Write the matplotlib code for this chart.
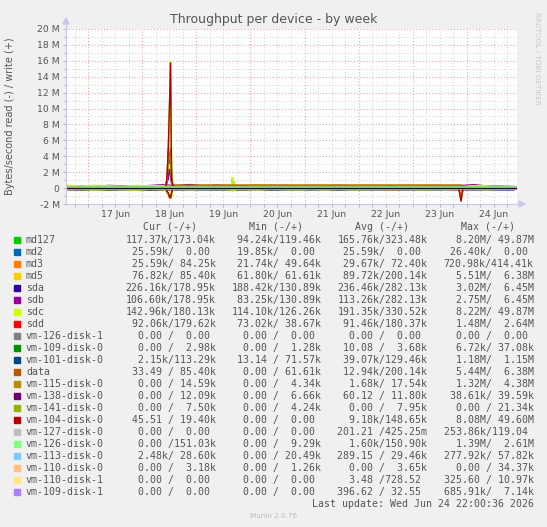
import numpy as np
import pandas as pd
import matplotlib
matplotlib.use("Agg")
import matplotlib.pyplot as plt
import matplotlib.dates as mdates
from matplotlib.ticker import FuncFormatter, MultipleLocator, NullFormatter
from matplotlib.patches import Rectangle, Polygon
from matplotlib.lines import Line2D

W, H = 547, 527

# --- samples (kB/s); read values are drawn below zero ---
t6 = pd.date_range("2026-06-16 15:00", periods=34, freq="6h")
td = pd.to_datetime(["2026-06-16 14:00", "2026-06-17 12:00", "2026-06-18 12:00",
                     "2026-06-19 12:00", "2026-06-20 12:00", "2026-06-21 12:00",
                     "2026-06-22 12:00", "2026-06-23 12:00", "2026-06-24 12:00",
                     "2026-06-24 22:00"])
ev1 = pd.date_range("2026-06-18 10:00", periods=9, freq="30min")  # burst on the 18th
ev2 = pd.date_range("2026-06-19 15:30", periods=4, freq="30min")
ev3 = pd.date_range("2026-06-23 20:30", periods=5, freq="30min")

md127_wr6 = [190, 230, 170, 250, 200, 180, 270, 210, 240, 220, 200, 260, 210, 230, 190, 270, 220,
             200, 240, 180, 260, 210, 220, 190, 250, 200, 230, 210, 180, 240, 220, 200, 190, 175]
md127_rd6 = [140, 160, 130, 170, 150, 140, 180, 150, 160, 150, 140, 170, 150, 160, 130, 170, 150,
             140, 160, 130, 170, 150, 150, 140, 160, 140, 150, 150, 130, 160, 150, 140, 130, 120]
sdc_wr6 = [330, 280, 350, 300, 260, 340, 290, 320, 310, 280, 330, 300, 290, 270, 340, 300, 280,
           320, 290, 350, 280, 310, 300, 330, 270, 320, 300, 290, 340, 280, 310, 300, 190, 180]
sdc_rd6 = [200, 180, 230, 190, 210, 240, 180, 200, 190, 220, 180, 200, 210, 190, 230, 180, 200,
           220, 190, 210, 180, 230, 200, 190, 210, 180, 220, 200, 190, 210, 180, 200, 150, 143]
sda_wr6 = [260, 300, 240, 320, 280, 250, 310, 270, 300, 280, 260, 330, 270, 290, 250, 320, 280,
           260, 300, 240, 310, 270, 280, 250, 300, 260, 290, 270, 240, 300, 280, 260, 200, 180]
sda_rd6 = [230, 250, 220, 260, 240, 230, 270, 240, 250, 240, 230, 260, 240, 250, 220, 260, 240,
           230, 250, 220, 260, 240, 240, 230, 250, 230, 240, 240, 220, 250, 240, 230, 230, 226]
sdb_wr6 = [280, 300, 240, 320, 290, 250, 310, 440, 300, 450, 260, 330, 290, 290, 250, 300, 280,
           260, 300, 240, 310, 290, 280, 250, 300, 260, 290, 300, 240, 300, 440, 260, 200, 180]
md5_wr6 = [110, 130, 100, 120, 140, 110, 130, 120, 380, 370, 380, 375, 380, 370, 385, 375, 380,
           370, 380, 375, 385, 370, 380, 375, 370, 380, 375, 380, 370, 380, 120, 110, 90, 85]

zero_d = [0, 0, 0, 0, 0, 0, 0, 0, 0, 0]
md2_rd = [26, 25, 24, 26, 25, 25, 26, 25, 26, 26]
md3_wr = [70, 65, 80, 60, 75, 70, 72, 68, 84, 84]
md3_rd = [30, 28, 35, 27, 29, 30, 28, 29, 26, 26]
md5_rd = [90, 85, 95, 88, 90, 92, 86, 90, 77, 77]
sdb_rd = [110, 115, 105, 120, 110, 112, 115, 110, 107, 107]
sdd_wr = [170, 190, 160, 185, 175, 180, 170, 190, 180, 180]
sdd_rd = [90, 95, 85, 92, 90, 88, 94, 90, 92, 92]
vm109d0_wr = [3, 4, 3, 5, 4, 3, 4, 3, 3, 3]
vm101_wr = [120, 130, 110, 140, 125, 130, 120, 135, 113, 113]
vm101_rd = [40, 38, 42, 39, 40, 37, 41, 39, 2, 2]
data_rd = [10, 12, 15, 10, 12, 14, 11, 13, 0, 0]
vm115_wr = [15, 18, 16, 20, 17, 18, 16, 19, 15, 15]
vm115_rd = [0, 2, 1, 0, 3, 1, 2, 1, 0, 0]
vm138_wr = [12, 11, 13, 12, 11, 12, 12, 11, 12, 12]
vm141_wr = [8, 7, 9, 8, 7, 8, 8, 7, 8, 7]
vm104_wr = [140, 160, 130, 150, 145, 150, 140, 155, 19, 19]
vm104_rd = [5, 10, 8, 9, 10, 7, 9, 12, 0, 0]
vm127_rd = [0, 0.2, 0.3, 0.1, 0.2, 0.1, 0.3, 0.2, 0, 0]
vm126d0_wr = [150, 152, 148, 151, 150, 149, 152, 150, 151, 151]
vm126d0_rd = [2, 1, 3, 1, 2, 1, 2, 1, 0, 0]
vm113_wr = [28, 30, 27, 31, 29, 30, 28, 30, 29, 29]
vm113_rd = [0.3, 0.2, 0.4, 0.3, 0.2, 0.3, 0.3, 0.2, 2.5, 2.5]
vm110d0_wr = [3, 4, 3, 4, 3, 4, 3, 4, 3, 3]
vm109d1_rd = [0.4, 0.3, 0.5, 0.4, 0.3, 0.4, 0.4, 0.3, 0, 0]

# burst values
vm104_wr_ev1 = [150, 300, 1500, 5000, 10000, 15800, 1000, 300, 150]
sdc_wr_ev1 = [300, 400, 1300, 4500, 9500, 16000, 1200, 400, 300]
md127_wr_ev1 = [200, 350, 1250, 4400, 9400, 15900, 1100, 350, 210]
md5_wr_ev1 = [120, 400, 1400, 4800, 3000, 5000, 1500, 400, 380]
vm115_wr_ev1 = [20, 200, 1300, 3500, 4000, 3800, 500, 50, 20]
sda_wr_ev1 = [300, 400, 800, 1200, 2400, 1800, 600, 300, 300]
md127_rd_ev1 = [150, 300, 600, 800, 1000, 1300, 900, 300, 150]
sdc_rd_ev1 = [200, 350, 650, 850, 1100, 1350, 950, 350, 190]
md5_rd_ev1 = [90, 250, 550, 750, 1150, 1250, 650, 150, 90]
data_rd_ev1 = [10, 200, 500, 700, 1200, 1300, 600, 100, 10]
vm104_rd_ev1 = [10, 100, 400, 600, 1000, 1200, 500, 100, 10]
sdc_wr_ev2 = [300, 1400, 900, 300]
md127_wr_ev2 = [210, 1300, 800, 200]
sdc_rd_ev2 = [190, 450, 300, 180]
md127_rd_ev2 = [140, 420, 280, 150]
vm104_rd_ev3 = [10, 900, 1700, 600, 10]
data_rd_ev3 = [10, 800, 1500, 500, 10]
md5_rd_ev3 = [90, 800, 1500, 500, 90]
vm115_rd_ev3 = [0, 600, 1200, 300, 0]

names = ["md127", "md2", "md3", "md5", "sda", "sdb", "sdc", "sdd", "vm-126-disk-1",
         "vm-109-disk-0", "vm-101-disk-0", "data", "vm-115-disk-0", "vm-138-disk-0",
         "vm-141-disk-0", "vm-104-disk-0", "vm-127-disk-0", "vm-126-disk-0",
         "vm-113-disk-0", "vm-110-disk-0", "vm-110-disk-1", "vm-109-disk-1"]
colors = ["#00CC00", "#0066B3", "#FF8000", "#FFCC00", "#330099", "#990099", "#CCFF00",
          "#FF0000", "#808080", "#008F00", "#00487D", "#B35A00", "#B38F00", "#6B006B",
          "#8FB300", "#B30000", "#BEBEBE", "#80FF80", "#80C9FF", "#FFC080", "#FFE680",
          "#AA80FF"]
cur = ["117.37k/173.04k", " 25.59k/  0.00 ", " 25.59k/ 84.25k", " 76.82k/ 85.40k",
       "226.16k/178.95k", "106.60k/178.95k", "142.96k/180.13k", " 92.06k/179.62k",
       "  0.00 /  0.00 ", "  0.00 /  2.98k", "  2.15k/113.29k", " 33.49 / 85.40k",
       "  0.00 / 14.59k", "  0.00 / 12.09k", "  0.00 /  7.50k", " 45.51 / 19.40k",
       "  0.00 /  0.00 ", "  0.00 /151.03k", "  2.48k/ 28.60k", "  0.00 /  3.18k",
       "  0.00 /  0.00 ", "  0.00 /  0.00 "]
mins = [" 94.24k/119.46k", " 19.85k/  0.00 ", " 21.74k/ 49.64k", " 61.80k/ 61.61k",
        "188.42k/130.89k", " 83.25k/130.89k", "114.10k/126.26k", " 73.02k/ 38.67k",
        "  0.00 /  0.00 ", "  0.00 /  1.28k", " 13.14 / 71.57k", "  0.00 / 61.61k",
        "  0.00 /  4.34k", "  0.00 /  6.66k", "  0.00 /  4.24k", "  0.00 /  0.00 ",
        "  0.00 /  0.00 ", "  0.00 /  9.29k", "  0.00 / 20.49k", "  0.00 /  1.26k",
        "  0.00 /  0.00 ", "  0.00 /  0.00 "]
avgs = ["165.76k/323.48k", " 25.59k/  0.00 ", " 29.67k/ 72.40k", " 89.72k/200.14k",
        "236.46k/282.13k", "113.26k/282.13k", "191.35k/330.52k", " 91.46k/180.37k",
        "  0.00 /  0.00 ", " 10.08 /  3.68k", " 39.07k/129.46k", " 12.94k/200.14k",
        "  1.68k/ 17.54k", " 60.12 / 11.80k", "  0.00 /  7.95k", "  9.18k/148.65k",
        "201.21 /425.25m", "  1.60k/150.90k", "289.15 / 29.46k", "  0.00 /  3.65k",
        "  3.48 /728.52 ", "396.62 / 32.55 "]
maxs = ["  8.20M/ 49.87M", " 26.40k/  0.00 ", "720.98k/414.41k", "  5.51M/  6.38M",
        "  3.02M/  6.45M", "  2.75M/  6.45M", "  8.22M/ 49.87M", "  1.48M/  2.64M",
        "  0.00 /  0.00 ", "  6.72k/ 37.08k", "  1.18M/  1.15M", "  5.44M/  6.38M",
        "  1.32M/  4.38M", " 38.61k/ 39.59k", "  0.00 / 21.34k", "  8.08M/ 49.60M",
        "253.86k/119.04 ", "  1.39M/  2.61M", "277.92k/ 57.82k", "  0.00 / 34.37k",
        "325.60 / 10.97k", "685.91k/  7.14k"]

writes = {
    "md127": [(t6, md127_wr6), (ev1, md127_wr_ev1), (ev2, md127_wr_ev2)],
    "md2": [(td, zero_d)],
    "md3": [(td, md3_wr)],
    "md5": [(t6, md5_wr6), (ev1, md5_wr_ev1)],
    "sda": [(t6, sda_wr6), (ev1, sda_wr_ev1)],
    "sdb": [(t6, sdb_wr6), (ev1, sda_wr_ev1)],
    "sdc": [(t6, sdc_wr6), (ev1, sdc_wr_ev1), (ev2, sdc_wr_ev2)],
    "sdd": [(td, sdd_wr)],
    "vm-126-disk-1": [(td, zero_d)],
    "vm-109-disk-0": [(td, vm109d0_wr)],
    "vm-101-disk-0": [(td, vm101_wr)],
    "data": [(t6, md5_wr6), (ev1, md5_wr_ev1)],
    "vm-115-disk-0": [(td, vm115_wr), (ev1, vm115_wr_ev1)],
    "vm-138-disk-0": [(td, vm138_wr)],
    "vm-141-disk-0": [(td, vm141_wr)],
    "vm-104-disk-0": [(td, vm104_wr), (ev1, vm104_wr_ev1)],
    "vm-127-disk-0": [(td, zero_d)],
    "vm-126-disk-0": [(td, vm126d0_wr)],
    "vm-113-disk-0": [(td, vm113_wr)],
    "vm-110-disk-0": [(td, vm110d0_wr)],
    "vm-110-disk-1": [(td, zero_d)],
    "vm-109-disk-1": [(td, zero_d)],
}
reads = {
    "md127": [(t6, md127_rd6), (ev1, md127_rd_ev1), (ev2, md127_rd_ev2)],
    "md2": [(td, md2_rd)],
    "md3": [(td, md3_rd)],
    "md5": [(td, md5_rd), (ev1, md5_rd_ev1), (ev3, md5_rd_ev3)],
    "sda": [(t6, sda_rd6)],
    "sdb": [(td, sdb_rd)],
    "sdc": [(t6, sdc_rd6), (ev1, sdc_rd_ev1), (ev2, sdc_rd_ev2)],
    "sdd": [(td, sdd_rd)],
    "vm-126-disk-1": [(td, zero_d)],
    "vm-101-disk-0": [(td, vm101_rd)],
    "data": [(td, data_rd), (ev1, data_rd_ev1), (ev3, data_rd_ev3)],
    "vm-115-disk-0": [(td, vm115_rd), (ev3, vm115_rd_ev3)],
    "vm-104-disk-0": [(td, vm104_rd), (ev1, vm104_rd_ev1), (ev3, vm104_rd_ev3)],
    "vm-127-disk-0": [(td, vm127_rd)],
    "vm-126-disk-0": [(td, vm126d0_rd)],
    "vm-113-disk-0": [(td, vm113_rd)],
    "vm-109-disk-1": [(td, vm109d1_rd)],
}

TXT = "#555555"
def fx(x):
    return x / W
def fy(y):
    return 1 - y / H

fig = plt.figure(figsize=(W / 100, H / 100), dpi=100, facecolor="#F0F0F0")
ax = fig.add_axes([fx(66), fy(204), fx(517) - fx(66), fy(29) - fy(204)])
ax.set_facecolor("white")

for name, col in zip(names, colors):
    for tt, vv in reads.get(name, []):
        ax.plot(tt, -np.asarray(vv, float) * 1e3, color=col, lw=1.0, solid_joinstyle="miter")
    for tt, vv in writes.get(name, []):
        ax.plot(tt, np.asarray(vv, float) * 1e3, color=col, lw=1.0, solid_joinstyle="miter")
ax.axhline(0, color="#101010", lw=0.7)

ax.set_ylim(-2e6, 20e6)
ax.set_xlim(pd.Timestamp("2026-06-16 14:06"), pd.Timestamp("2026-06-24 22:20"))

ax.yaxis.set_major_locator(MultipleLocator(2e6))
ax.yaxis.set_minor_locator(MultipleLocator(1e6))
ax.yaxis.set_major_formatter(FuncFormatter(lambda v, p: "0" if abs(v) < 1 else "%d M" % round(v / 1e6)))
ax.xaxis.set_major_locator(mdates.DayLocator())
ax.xaxis.set_minor_locator(mdates.HourLocator(byhour=[6, 12, 18]))
ax.xaxis.set_major_formatter(NullFormatter())
def xlab(v, p):
    d = mdates.num2date(v)
    return d.strftime("%d %b") if d.hour == 12 else ""
ax.xaxis.set_minor_formatter(FuncFormatter(xlab))

ax.set_axisbelow(True)
ax.grid(which="minor", color="#D4D4D4", ls=(0, (1, 2)), lw=0.75)
ax.grid(which="major", color="#F0A0A0", ls=(0, (1, 2)), lw=0.75)
ax.tick_params(axis="both", which="both", colors="#B0B0B0", labelcolor=TXT, labelsize=6.7,
               length=2.5, width=0.7, pad=2)
ax.tick_params(axis="x", which="minor", pad=1.5)
ax.tick_params(axis="y", which="minor", length=1.5)
for s in ax.spines.values():
    s.set_visible(False)

# axis lines with arrows
acol = "#C8C8F0"
fig.add_artist(Line2D([fx(66), fx(66)], [fy(204), fy(22)], color=acol, lw=0.8))
fig.add_artist(Line2D([fx(66), fx(520)], [fy(204), fy(204)], color=acol, lw=0.8))
fig.add_artist(Polygon([[fx(63), fy(24)], [fx(69), fy(24)], [fx(66), fy(18)]], closed=True,
                       color=acol, transform=fig.transFigure))
fig.add_artist(Polygon([[fx(519), fy(201)], [fx(519), fy(207)], [fx(525), fy(204)]], closed=True,
                       color=acol, transform=fig.transFigure))

fig.text(0.5, fy(19), "Throughput per device - by week", ha="center", va="center",
         fontsize=9, color=TXT)
fig.text(fx(10), fy(116), "Bytes/second read (-) / write (+)", rotation=90, ha="center",
         va="center", fontsize=7, color=TXT)
fig.text(fx(537), fy(58), "RRDTOOL / TOBI OETIKER", rotation=270, ha="center", va="center",
         fontsize=5.2, color="#C8C8C8")

# legend
fs = 7.15
cw = 0.6021 * fs * 100 / 72
mono = "DejaVu Sans Mono"
heads = ["Cur (-/+)", "Min (-/+)", "Avg (-/+)", "Max (-/+)"]
col_right = [215.3, 321.0, 427.0, 533.3]
for hd, r in zip(heads, col_right):
    fig.text(fx(r - 7.5 * cw), fy(227), hd, ha="center", va="center", fontsize=fs,
             family=mono, color=TXT)
for i, (name, col) in enumerate(zip(names, colors)):
    y = 240 + 12 * i
    fig.add_artist(Rectangle((fx(14), fy(y + 3)), fx(6), 6 / H, color=col,
                             transform=fig.transFigure))
    fig.text(fx(26), fy(y), name, ha="left", va="center", fontsize=fs, family=mono, color=TXT)
    for vals, r in zip([cur, mins, avgs, maxs], col_right):
        fig.text(fx(r - 15 * cw), fy(y), vals[i], ha="left", va="center", fontsize=fs,
                 family=mono, color=TXT)

fig.text(fx(533.3 - 37 * cw), fy(504), "Last update: Wed Jun 24 22:00:36 2026", ha="left",
         va="center", fontsize=fs, family=mono, color=TXT)
fig.text(0.5, fy(516), "Munin 2.0.76", ha="center", va="center", fontsize=5.2, color="#BBBBBB")

fig.savefig("out.png", dpi=100, facecolor=fig.get_facecolor())
